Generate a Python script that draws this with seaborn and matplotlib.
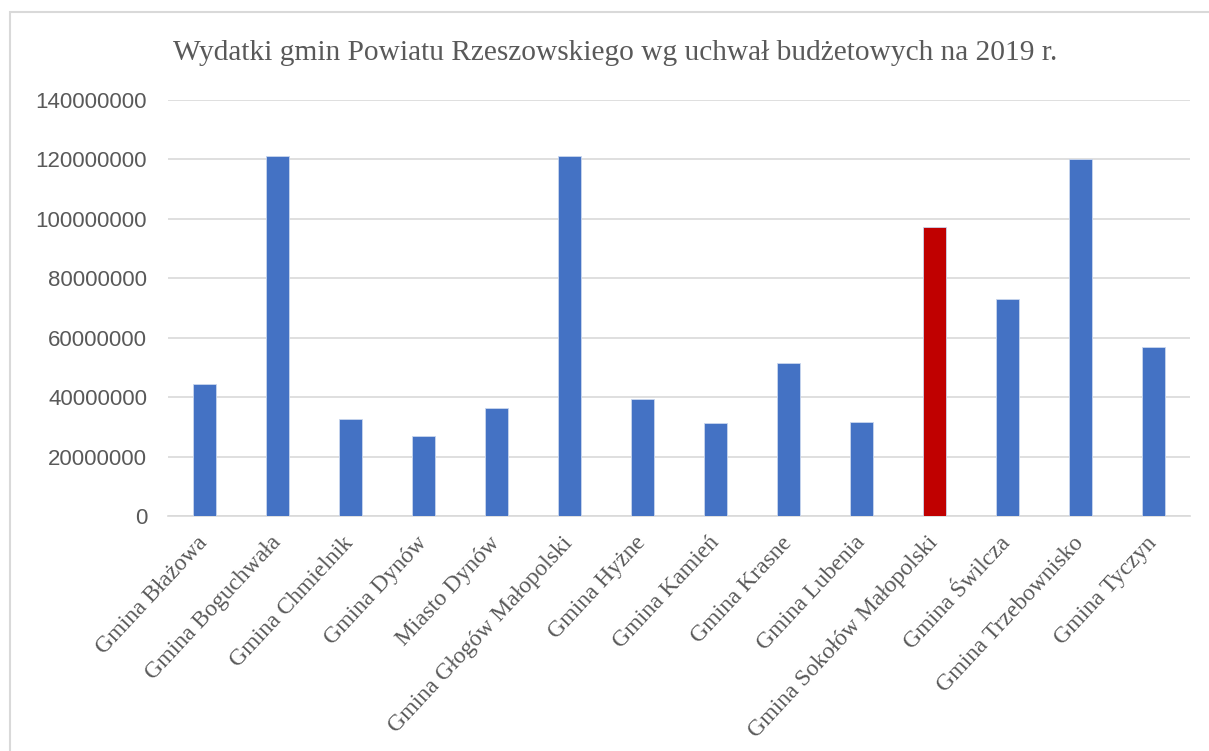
import matplotlib
matplotlib.use("Agg")
import matplotlib.pyplot as plt
import matplotlib.ticker as mticker
from matplotlib.patches import Rectangle
import pandas as pd
import seaborn as sns

# Data
gminy = [
    "Gmina Błażowa", "Gmina Boguchwała", "Gmina Chmielnik", "Gmina Dynów",
    "Miasto Dynów", "Gmina Głogów Małopolski", "Gmina Hyżne", "Gmina Kamień",
    "Gmina Krasne", "Gmina Lubenia", "Gmina Sokołów Małopolski", "Gmina Świlcza",
    "Gmina Trzebownisko", "Gmina Tyczyn",
]
wydatki = [
    44400000, 121000000, 32800000, 26900000, 36200000, 121000000, 39300000,
    31300000, 51400000, 31500000, 97100000, 72900000, 120000000, 56900000,
]
highlight = "Gmina Sokołów Małopolski"
y_ticks = [0, 20000000, 40000000, 60000000, 80000000, 100000000, 120000000, 140000000]
title = "Wydatki gmin Powiatu Rzeszowskiego wg uchwał budżetowych na 2019 r."

BLUE = "#4472C4"
RED = "#C00000"
TEXT = "#595959"
GRID = "#D9D9D9"

df = pd.DataFrame({"gmina": gminy, "wydatki": wydatki})
palette = {g: (RED if g == highlight else BLUE) for g in gminy}

sns.set_style("white")
fig = plt.figure(figsize=(12.09, 7.51), dpi=100)
ax = fig.add_axes([168 / 1209, 1 - 516 / 751, (1190 - 168) / 1209, (516 - 100) / 751])

sns.barplot(data=df, x="gmina", y="wydatki", hue="gmina", palette=palette,
            saturation=1, width=0.315, legend=False, ax=ax,
            edgecolor="#C9D6EE", linewidth=0.6, zorder=3)

ax.set_ylim(0, 140000000)
ax.set_xlim(-0.5, len(gminy) - 0.5)
ax.set_yticks(y_ticks)
ax.yaxis.set_major_formatter(mticker.FuncFormatter(lambda v, p: f"{int(v)}"))
ax.grid(True, axis="y", color=GRID, linewidth=1.2, zorder=0)
ax.set_axisbelow(True)
for s in ["top", "right", "left"]:
    ax.spines[s].set_visible(False)
ax.spines["bottom"].set_color(GRID)
ax.spines["bottom"].set_linewidth(1.2)
ax.set_xlabel("")
ax.set_ylabel("")
ax.tick_params(axis="both", length=0)
ax.tick_params(axis="y", pad=15)
ax.tick_params(axis="x", pad=17)

for lbl in ax.get_yticklabels():
    lbl.set_fontfamily("Liberation Sans")
    lbl.set_fontsize(16)
    lbl.set_color(TEXT)

ax.set_xticks(range(len(gminy)))
ax.set_xticklabels(gminy, rotation=47, ha="right", va="center",
                   rotation_mode="anchor", family="Liberation Serif",
                   fontsize=17, color=TEXT)

fig.text(615 / 1209, 1 - 53 / 751, title, ha="center", va="center",
         family="Liberation Serif", fontsize=21.2, color=TEXT)

# outer chart frame
fig.patches.append(Rectangle((10 / 1209, -0.1), 1.2, 1.1 - 12 / 751,
                             transform=fig.transFigure, fill=False,
                             edgecolor=GRID, linewidth=1.5))

fig.savefig("out.png", dpi=100, facecolor="white")
